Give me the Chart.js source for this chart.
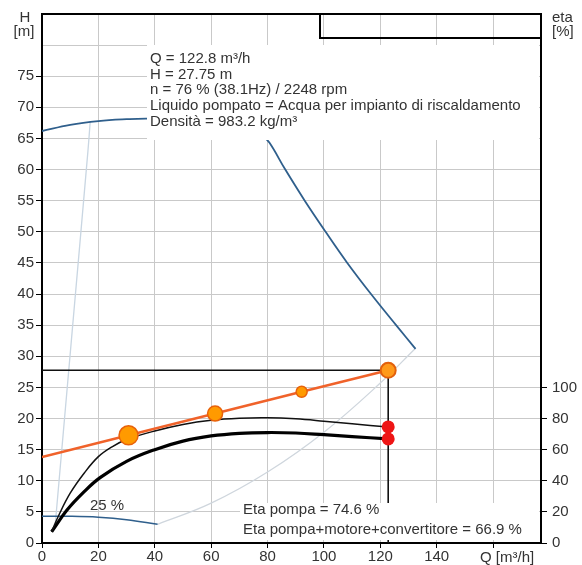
<!DOCTYPE html>
<html>
<head>
<meta charset="utf-8">
<script src="https://cdn.jsdelivr.net/npm/chart.js@4.4.1/dist/chart.umd.min.js"></script>
<style>
  body { margin: 0; background: #fff; }
  #wrap { width: 582px; height: 565px; }
</style>
</head>
<body>
<div id="wrap"><canvas id="pumpChart"></canvas></div>
<script>
// Curva max velocità (H)
const qTop = [0, 10, 20, 30, 37.6, 50, 60, 70, 75, 78, 80.7, 86.3, 93.2, 100.6, 108.3, 116.7, 125.6, 132.5];
const hTop = [66.2, 67.2, 67.8, 68.1, 68.2, 68.0, 67.6, 67.0, 66.4, 65.6, 64.3, 60, 55, 50, 45, 40, 35, 31.2];
// Curva 25 %
const q25 = [0, 10, 20, 30, 41];
const h25 = [4.3, 4.3, 4.15, 3.75, 3.0];
// limiti campo di lavoro
const qLeft = [4.6, 10.7, 16.3, 17.1];
const hLeft = [2.5, 34, 63, 67.7];
const qRight = [41, 60, 80, 100, 120, 132.5];
const hRight = [3.0, 6.4, 11.4, 17.8, 25.7, 31.3];
// rendimenti (asse eta)
const qEtaPump = [3.4, 6, 10, 15, 20, 25, 30, 40, 50, 60, 70, 80, 90, 100, 110, 122.8];
const etaPump = [7.2, 18, 32, 45, 55.5, 62, 66.5, 72, 76.2, 78.9, 80.2, 80.5, 79.8, 78.3, 76.6, 74.6];
const qEtaTot = [3.4, 8.8, 14.7, 20.6, 30, 40, 50, 60, 70, 80, 90, 100, 110, 122.8];
const etaTot = [7.2, 21, 32.5, 42, 52.5, 60, 65.5, 68.8, 70.5, 71, 70.7, 69.6, 68.4, 66.9];
// curva di regolazione
const qCtrl = [0, 30.7, 61.4, 92.1, 122.8];
const hCtrl = [13.8, 17.3, 20.8, 24.3, 27.75];
const ctrlRadius = [0, 9.5, 7.5, 5.5, 0];
// punto di lavoro
const qOp = 122.8;
const hOp = 27.75;
const etaOp = [74.6, 66.9];

const infoLines = [
  "Q = 122.8 m\u00b3/h",
  "H = 27.75 m",
  "n = 76 % (38.1Hz) / 2248 rpm",
  "Liquido pompato = Acqua per impianto di riscaldamento",
  "Densit\u00e0 = 983.2 kg/m\u00b3"
];
const etaLines = [
  "Eta pompa = 74.6 %",
  "Eta pompa+motore+convertitore = 66.9 %"
];

const FONT = "'Liberation Sans', Arial, sans-serif";
const pts = (xs, ys) => xs.map((x, i) => ({ x: x, y: ys[i] }));

const overlay = {
  id: "overlay",
  afterDatasetsDraw(chart) {
    const c = chart.ctx;
    const a = chart.chartArea;
    c.save();
    // riquadri bianchi per i testi
    c.fillStyle = "#fff";
    c.fillRect(147, 45, a.right - 2 - 147, 95);
    c.fillRect(240, 503, a.right - 2 - 240, 37);
    // bordo superiore e riquadro in alto
    c.strokeStyle = "#000";
    c.lineWidth = 2;
    c.beginPath();
    c.moveTo(a.left - 1, a.top);
    c.lineTo(a.right + 1, a.top);
    c.moveTo(320, a.top);
    c.lineTo(320, 38);
    c.lineTo(a.right, 38);
    c.stroke();

    c.fillStyle = "#333";
    c.font = "15px " + FONT;
    c.textBaseline = "middle";
    c.textAlign = "left";
    infoLines.forEach((t, i) => c.fillText(t, 150, 59 + i * 15.6));
    etaLines.forEach((t, i) => c.fillText(t, 243, 510 + i * 20));
    c.fillText("25 %", 90, 506);
    c.fillText("Q [m\u00b3/h]", 480, 558);
    c.fillText("eta", 552, 18);
    c.fillText("[%]", 552, 32);
    c.textAlign = "center";
    c.fillText("H", 25, 18);
    c.fillText("[m]", 24, 32);
    c.restore();
  }
};

const tickFont = { family: FONT, size: 15 };

new Chart(document.getElementById("pumpChart"), {
  type: "line",
  data: {
    datasets: [
      {
        data: [{ x: qOp, y: hOp }],
        showLine: false,
        pointRadius: 7.5,
        pointBackgroundColor: "#ff9a1a",
        pointBorderColor: "#e2600c",
        pointBorderWidth: 2,
        yAxisID: "y"
      },
      {
        data: etaOp.map(v => ({ x: qOp, y: v })),
        showLine: false,
        pointRadius: 6.5,
        pointBackgroundColor: "#ee1515",
        pointBorderColor: "#ee1515",
        pointBorderWidth: 0,
        yAxisID: "y2"
      },
      {
        data: pts(qCtrl, hCtrl),
        borderColor: "#f0622a",
        borderWidth: 2.5,
        tension: 0,
        pointRadius: ctrlRadius,
        pointBackgroundColor: "#ff9a00",
        pointBorderColor: "#e8620a",
        pointBorderWidth: 1.5,
        yAxisID: "y"
      },
      {
        data: [{ x: 0, y: hOp }, { x: qOp, y: hOp }, { x: qOp, y: 0 }],
        borderColor: "#111",
        borderWidth: 1.6,
        tension: 0,
        pointRadius: 0,
        yAxisID: "y"
      },
      {
        data: pts(qEtaPump, etaPump),
        borderColor: "#111",
        borderWidth: 1.5,
        tension: 0.4,
        pointRadius: 0,
        yAxisID: "y2"
      },
      {
        data: pts(qEtaTot, etaTot),
        borderColor: "#000",
        borderWidth: 3.2,
        tension: 0.4,
        pointRadius: 0,
        yAxisID: "y2"
      },
      {
        data: pts(qTop, hTop),
        borderColor: "#2f5f8c",
        borderWidth: 1.8,
        tension: 0.4,
        pointRadius: 0,
        yAxisID: "y"
      },
      {
        data: pts(q25, h25),
        borderColor: "#2f5f8c",
        borderWidth: 1.5,
        tension: 0.4,
        pointRadius: 0,
        yAxisID: "y"
      },
      {
        data: pts(qLeft, hLeft),
        borderColor: "#c9d6e2",
        borderWidth: 1.3,
        tension: 0.3,
        pointRadius: 0,
        yAxisID: "y"
      },
      {
        data: pts(qRight, hRight),
        borderColor: "#cfd6dd",
        borderWidth: 1.3,
        tension: 0.4,
        pointRadius: 0,
        yAxisID: "y"
      }
    ]
  },
  options: {
    responsive: true,
    maintainAspectRatio: false,
    animation: false,
    layout: { padding: { top: 12, left: 0, right: 0, bottom: 0 } },
    plugins: { legend: { display: false }, tooltip: { enabled: false } },
    scales: {
      x: {
        type: "linear",
        min: 0,
        max: 177,
        afterFit: s => { s.height = 22; },
        ticks: {
          stepSize: 20,
          includeBounds: false,
          autoSkip: false,
          maxRotation: 0,
          padding: 0,
          color: "#333",
          font: tickFont,
          callback: v => (v <= 140 ? v : "")
        },
        grid: { color: "#c9c9c9", tickLength: 5, tickColor: "#000" },
        border: { display: true, color: "#000", width: 2 }
      },
      y: {
        position: "left",
        min: 0,
        max: 85,
        afterFit: s => { s.width = 42; },
        ticks: {
          stepSize: 5,
          autoSkip: false,
          padding: 2,
          color: "#333",
          font: tickFont,
          callback: v => (v <= 75 ? v : "")
        },
        grid: {
          color: "#c9c9c9",
          tickLength: 6,
          tickColor: ctx => (ctx.tick && ctx.tick.value > 75 ? "rgba(0,0,0,0)" : "#000")
        },
        border: { display: true, color: "#000", width: 2 }
      },
      y2: {
        position: "right",
        min: 0,
        max: 340,
        afterFit: s => { s.width = 41; },
        ticks: {
          stepSize: 20,
          autoSkip: false,
          padding: 5,
          color: "#333",
          font: tickFont,
          callback: v => (v <= 100 ? v : "")
        },
        grid: {
          drawOnChartArea: false,
          tickLength: 6,
          tickColor: ctx => (ctx.tick && ctx.tick.value > 100 ? "rgba(0,0,0,0)" : "#000")
        },
        border: { display: true, color: "#000", width: 2 }
      }
    }
  },
  plugins: [overlay]
});
</script>
</body>
</html>
